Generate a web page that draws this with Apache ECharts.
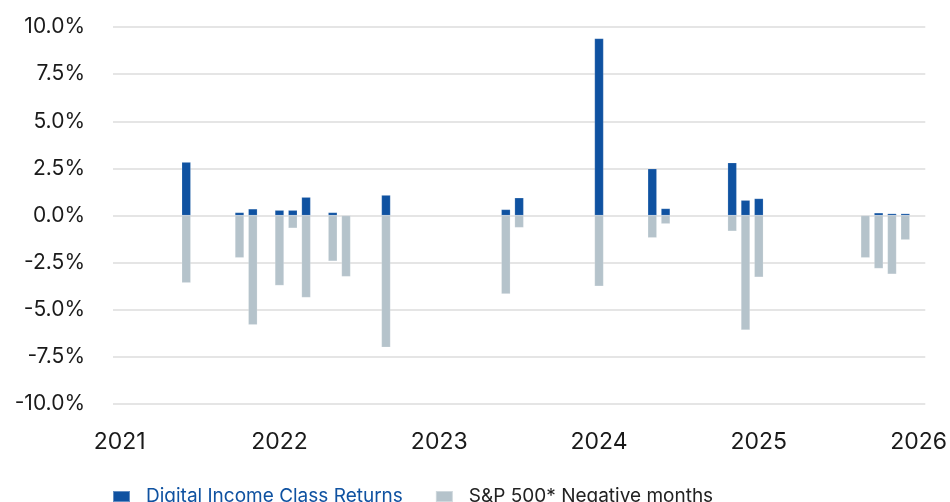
<!DOCTYPE html>
<html>
<head>
<meta charset="utf-8">
<script src="https://cdn.jsdelivr.net/npm/echarts@6/dist/echarts.min.js"></script>
<style>
html,body{margin:0;padding:0;background:#fff;}
#chart{width:950px;height:502px;}
</style>
</head>
<body>
<div id="chart"></div>
<script>
// All months shown on the axis (Jan 2021 .. Jan 2026)
const months = [
  "2021-01","2021-02","2021-03","2021-04","2021-05","2021-06","2021-07","2021-08","2021-09","2021-10","2021-11","2021-12",
  "2022-01","2022-02","2022-03","2022-04","2022-05","2022-06","2022-07","2022-08","2022-09","2022-10","2022-11","2022-12",
  "2023-01","2023-02","2023-03","2023-04","2023-05","2023-06","2023-07","2023-08","2023-09","2023-10","2023-11","2023-12",
  "2024-01","2024-02","2024-03","2024-04","2024-05","2024-06","2024-07","2024-08","2024-09","2024-10","2024-11","2024-12",
  "2025-01","2025-02","2025-03","2025-04","2025-05","2025-06","2025-07","2025-08","2025-09","2025-10","2025-11","2025-12",
  "2026-01"
];
// Months in which the S&P 500 was negative
const negMonths = ["2021-06","2021-10","2021-11","2022-01","2022-02","2022-03","2022-05","2022-06","2022-09",
  "2023-06","2023-07","2024-01","2024-05","2024-06","2024-11","2024-12","2025-01","2025-09","2025-10","2025-11","2025-12"];
// Digital Income Class returns in those months (%)
const dicReturns = [2.83, 0.16, 0.35, 0.28, 0.28, 0.97, 0.16, null, 1.08,
  0.32, 0.94, 9.39, 2.48, 0.37, 2.80, 0.81, 0.90, null, 0.14, 0.10, 0.10];
// S&P 500 returns in those months (%)
const spReturns = [-3.57, -2.24, -5.80, -3.71, -0.67, -4.35, -2.42, -3.24, -6.99,
  -4.16, -0.64, -3.75, -1.18, -0.44, -0.83, -6.07, -3.27, -2.24, -2.81, -3.11, -1.29];
const seriesNames = ["Digital Income Class Returns", "S&P 500* Negative months"];
const yTicks = {min: -10, max: 10, step: 2.5};

const BLUE = "#0f52a1", GRAY = "#b5c3cb";
const FONT = "Inter";

const chart = echarts.init(document.getElementById('chart'), null, {renderer: 'canvas'});
chart.setOption({
  animation: false,
  backgroundColor: '#ffffff',
  textStyle: {fontFamily: FONT},
  grid: {left: 113, right: 23, top: 27, bottom: 98, containLabel: false},
  legend: {
    left: 112, top: 487, padding: 0,
    itemWidth: 17, itemHeight: 11, itemGap: 32,
    icon: 'rect',
    textStyle: {fontSize: 19, fontFamily: FONT, color: '#222', padding: [0, 0, 0, 11]},
    data: [
      {name: seriesNames[0], textStyle: {color: BLUE}},
      {name: seriesNames[1], textStyle: {color: '#222'}}
    ]
  },
  xAxis: {
    type: 'category',
    data: months,
    boundaryGap: true,
    axisLine: {show: false, onZero: false},
    axisTick: {show: false},
    splitLine: {show: false},
    axisLabel: {
      interval: 11,
      margin: 27,
      fontSize: 23,
      color: '#1a1a1a',
      fontFamily: FONT,
      formatter: v => v.slice(0, 4)
    }
  },
  yAxis: {
    type: 'value',
    min: yTicks.min, max: yTicks.max, interval: yTicks.step,
    axisLine: {show: false},
    axisTick: {show: false},
    splitLine: {lineStyle: {color: '#dcdcdc', width: 1.5}},
    axisLabel: {
      margin: 28,
      fontSize: 21,
      color: '#1a1a1a',
      fontFamily: FONT,
      formatter: v => v.toFixed(1) + '%'
    }
  },
  series: [
    {
      name: seriesNames[0], type: 'bar',
      data: negMonths.map((m, i) => [m, dicReturns[i]]),
      barWidth: 9, barGap: '-100%',
      itemStyle: {color: BLUE, borderColor: 'rgba(255,255,255,0.35)', borderWidth: 0.5}
    },
    {
      name: seriesNames[1], type: 'bar',
      data: negMonths.map((m, i) => [m, spReturns[i]]),
      barWidth: 9, barGap: '-100%',
      itemStyle: {color: GRAY, borderColor: 'rgba(255,255,255,0.35)', borderWidth: 0.5}
    }
  ]
});
</script>
</body>
</html>
